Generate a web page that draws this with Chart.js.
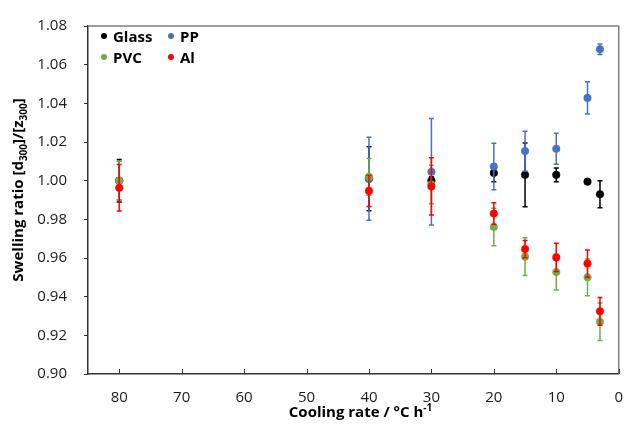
<!DOCTYPE html>
<html>
<head>
<meta charset="utf-8">
<script src="https://cdn.jsdelivr.net/npm/chart.js@4"></script>
<style>
  body { margin: 0; background: #fff; }
  #wrap { position: relative; width: 638px; height: 424px; font-family: "Open Sans", sans-serif; color: #000; }
  #ytitle { position: absolute; left: -133px; top: 180px; width: 300px; line-height: 20px; text-align: center;
            font-weight: bold; font-size: 15px; transform: rotate(-90deg); white-space: nowrap; }
  #xtitle { position: absolute; left: 88px; width: 545px; top: 403px; line-height: 16px; text-align: center;
            font-weight: bold; font-size: 15px; white-space: nowrap; }
  #legend { position: absolute; left: 101px; top: 26px; display: grid; grid-template-columns: 67px 60px; row-gap: 1px;
            font-weight: bold; font-size: 15px; }
  .item { display: flex; align-items: center; height: 20px; }
  .dot { width: 6px; height: 6px; border-radius: 50%; margin-right: 6px; }
  sub, sup { font-size: 10px; line-height: 0; }
</style>
</head>
<body>
<div id="wrap">
  <canvas id="mainChart" width="638" height="424"></canvas>
  <div id="ytitle">Swelling ratio [d<sub>300</sub>]/[z<sub>300</sub>]</div>
  <div id="xtitle">Cooling rate / °C h<sup>-1</sup></div>
  <div id="legend"></div>
</div>
<script>
// cooling rates (°C/h)
const rates = [80, 40, 30, 20, 15, 10, 5, 3];

const glass    = [1.000, 1.001, 1.000, 1.004, 1.003, 1.003, 0.9995, 0.993];
const glassErr = [0.011, 0.0165, 0.002, 0.0045, 0.0165, 0.0035, 0.001, 0.007];
const pp       = [1.000, 1.001, 1.0046, 1.0073, 1.0153, 1.0165, 1.0428, 1.068];
const ppErr    = [0.010, 0.0215, 0.0275, 0.012, 0.0103, 0.008, 0.0083, 0.0027];
const pvc      = [1.000, 1.002, 0.998, 0.976, 0.9607, 0.9527, 0.950, 0.927];
const pvcErr   = [0.010, 0.0095, 0.010, 0.0097, 0.0098, 0.0093, 0.0095, 0.0097];
const al       = [0.9963, 0.9947, 0.997, 0.983, 0.9646, 0.9603, 0.9571, 0.9324];
const alErr    = [0.012, 0.008, 0.0148, 0.0056, 0.0045, 0.0073, 0.007, 0.0072];

const xTicks = [80, 70, 60, 50, 40, 30, 20, 10, 0];
const yTicks = [0.90, 0.92, 0.94, 0.96, 0.98, 1.00, 1.02, 1.04, 1.06, 1.08];

const names  = ["Glass", "PP", "PVC", "Al"];
const colors = ["#000000", "#4472C4", "#70AD47", "#FF0000"];
const values = [glass, pp, pvc, al];
const errors = [glassErr, ppErr, pvcErr, alErr];

// legend, two columns like the original
document.getElementById("legend").innerHTML = names.map((n, i) =>
    `<div class="item"><span class="dot" style="background:${colors[i]}"></span>${n}</div>`
).join('');

const errorBars = {
    id: 'errorBars',
    beforeDatasetDraw(chart, args) {
        const ds = chart.data.datasets[args.index];
        const xs = chart.scales.x, ys = chart.scales.y;
        const ctx = chart.ctx;
        ctx.save();
        ctx.strokeStyle = ds.borderColor;
        ctx.lineWidth = 1.5;
        ds.data.forEach((p, i) => {
            const e = ds.err[i];
            const x = xs.getPixelForValue(p.x);
            const y1 = ys.getPixelForValue(p.y + e);
            const y2 = ys.getPixelForValue(p.y - e);
            ctx.beginPath();
            ctx.moveTo(x, y1); ctx.lineTo(x, y2);
            ctx.moveTo(x - 2.5, y1); ctx.lineTo(x + 2.5, y1);
            ctx.moveTo(x - 2.5, y2); ctx.lineTo(x + 2.5, y2);
            ctx.stroke();
        });
        ctx.restore();
    }
};

const frame = {
    id: 'frame',
    beforeDatasetsDraw(chart) {
        const a = chart.chartArea, ctx = chart.ctx, xs = chart.scales.x;
        ctx.save();
        ctx.strokeStyle = '#808080';
        ctx.lineWidth = 1.5;
        ctx.beginPath();
        ctx.moveTo(a.left, a.top); ctx.lineTo(a.right, a.top); ctx.lineTo(a.right, a.bottom);
        ctx.stroke();
        // x ticks point inward
        ctx.strokeStyle = '#333';
        ctx.lineWidth = 1;
        ctx.beginPath();
        xs.ticks.forEach((t, i) => {
            const x = Math.round(xs.getPixelForTick(i)) + 0.5;
            ctx.moveTo(x, a.bottom); ctx.lineTo(x, a.bottom - 5);
        });
        ctx.stroke();
        ctx.restore();
    }
};

new Chart(document.getElementById("mainChart"), {
    type: 'scatter',
    data: {
        datasets: names.map((n, i) => ({
            label: n,
            data: rates.map((r, j) => ({ x: r, y: values[i][j] })),
            err: errors[i],
            backgroundColor: colors[i],
            borderColor: colors[i],
            pointRadius: 3.8,
            pointBorderWidth: 0.5,
            order: 4 - i
        }))
    },
    options: {
        responsive: false,
        animation: false,
        layout: { padding: { left: 0, right: 5, top: 19, bottom: 0 } },
        plugins: { legend: { display: false }, tooltip: { enabled: false } },
        scales: {
            x: {
                type: 'linear', reverse: true, min: 0, max: 85,
                afterBuildTicks: s => { s.ticks = xTicks.map(v => ({ value: v })); },
                afterFit: s => { s.height = 50; },
                grid: { drawOnChartArea: false, drawTicks: false },
                border: { color: '#333', width: 1.5 },
                ticks: { padding: 15, color: '#1a1a1a', font: { family: 'Open Sans', size: 15 } }
            },
            y: {
                min: 0.90, max: 1.08,
                afterBuildTicks: s => { s.ticks = yTicks.map(v => ({ value: v })); },
                afterFit: s => { s.width = 88; },
                grid: { drawOnChartArea: false, tickLength: 4, color: '#333' },
                border: { color: '#333', width: 1.5 },
                ticks: { padding: 17, color: '#1a1a1a', font: { family: 'Open Sans', size: 15 },
                         callback: v => v.toFixed(2) }
            }
        }
    },
    plugins: [errorBars, frame]
});
</script>
</body>
</html>
